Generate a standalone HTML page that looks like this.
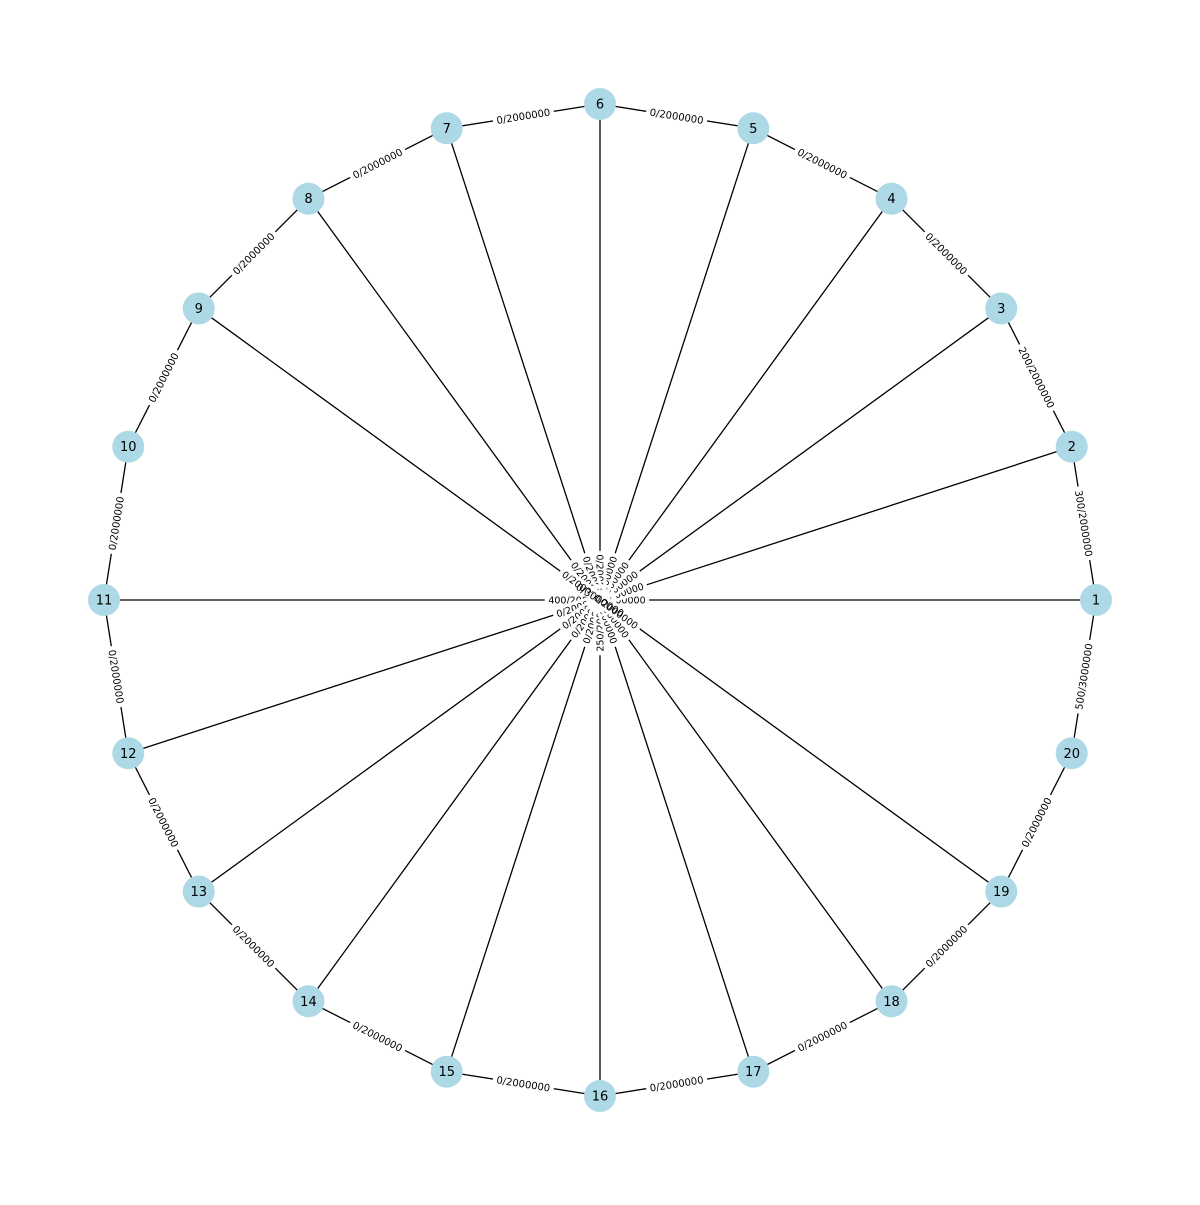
<!DOCTYPE html>
<html><head><meta charset="utf-8"><style>
html,body{margin:0;padding:0;background:#fff;}
svg text{font-family:"DejaVu Sans","Liberation Sans",sans-serif;}
</style></head><body>
<svg id="chart" width="1200" height="1200" viewBox="0 0 1200 1200" xmlns="http://www.w3.org/2000/svg">
<g id="edges"></g>
<g id="elabels"></g>
<g id="nodes"></g>
</svg>
<script>
const nodeIds = [1,2,3,4,5,6,7,8,9,10,11,12,13,14,15,16,17,18,19,20];
const ringLabels = ["300/2000000","200/2000000","0/2000000","0/2000000","0/2000000","0/2000000","0/2000000","0/2000000","0/2000000","0/2000000","0/2000000","0/2000000","0/2000000","0/2000000","0/2000000","0/2000000","0/2000000","0/2000000","0/2000000","500/3000000"];
const spokeNodes = [1,2,3,4,5,6,7,8,9,11,12,13,14,15,16,17,18,19];
const spokeLabels = ["0/2000000","0/2000000","0/2000000","0/2000000","0/2000000","0/2000000","0/2000000","0/2000000","0/2000000","400/2000000","0/2000000","0/2000000","0/2000000","0/2000000","250/2000000","0/2000000","0/2000000","0/2000000"];
const centerLabel = "0/3000000";
const cx=600, cy=600, R=496, NR=16;
const NS="http://www.w3.org/2000/svg";
function pos(i){const a=i*2*Math.PI/nodeIds.length;return [cx+R*Math.cos(a), cy-R*Math.sin(a)];}
function mk(t,attrs,parent){const e=document.createElementNS(NS,t);for(const k in attrs)e.setAttribute(k,attrs[k]);parent.appendChild(e);return e;}
const gE=document.getElementById('edges'),gL=document.getElementById('elabels'),gN=document.getElementById('nodes');
function label(x,y,x1,y1,x2,y2,txt,name,fs){
  fs=fs||10;
  let ang=Math.atan2(y2-y1,x2-x1)*180/Math.PI;
  if(ang>90)ang-=180; if(ang<=-90)ang+=180;
  const g=mk('g',{transform:`translate(${x},${y}) rotate(${ang})`},gL);
  
  
  const w=txt.length*fs*0.64+4;
  mk('rect',{x:-w/2,y:-fs*0.7,width:w,height:fs*1.4,fill:'#fff'},g);
  const t=mk('text',{x:0,y:fs*0.36,'text-anchor':'middle','font-size':fs,fill:'#000'},g);
  t.textContent=txt;
}
// spokes
spokeNodes.forEach((id)=>{const [x,y]=pos(nodeIds.indexOf(id));
  const l=mk('line',{x1:cx,y1:cy,x2:x,y2:y,stroke:'#000','stroke-width':1.3},gE);
  
  
});
// ring edges
nodeIds.forEach((id,i)=>{const [x1,y1]=pos(i),[x2,y2]=pos((i+1)%nodeIds.length);
  const l=mk('line',{x1,y1,x2,y2,stroke:'#000','stroke-width':1.3},gE);
  
  
});
// spoke labels near center
spokeNodes.forEach((id,k)=>{const [x,y]=pos(nodeIds.indexOf(id));const f=0.04;
  label(cx+(x-cx)*f,cy+(y-cy)*f,cx,cy,x,y,spokeLabels[k],'spoke-label-'+id,9.5);});
(function(){
  const g=mk('g',{transform:`translate(${cx},${cy}) rotate(32)`},gL);
  
  
  const t=mk('text',{x:0,y:3.6,'text-anchor':'middle','font-size':'10',fill:'#000'},g);
  t.textContent=centerLabel;})();
// ring labels
nodeIds.forEach((id,i)=>{const [x1,y1]=pos(i),[x2,y2]=pos((i+1)%nodeIds.length);
  label((x1+x2)/2,(y1+y2)/2,x1,y1,x2,y2,ringLabels[i],'ring-label-'+id);});
// nodes
nodeIds.forEach((id,i)=>{const [x,y]=pos(i);
  const c=mk('circle',{cx:x,cy:y,r:NR,fill:'#add8e6'},gN);
  
  
  const t=mk('text',{x:x,y:y+4.5,'text-anchor':'middle','font-size':'13',fill:'#000'},gN);
  
  
  t.textContent=id;
});
</script>
</body></html>
